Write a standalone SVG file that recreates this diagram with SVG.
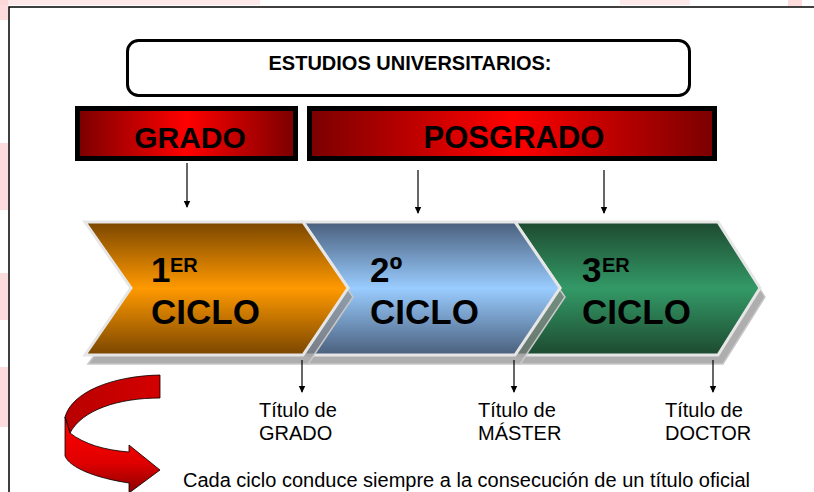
<svg xmlns="http://www.w3.org/2000/svg" width="814" height="492" viewBox="0 0 814 492">
  <defs>
    <linearGradient id="gRed" x1="0" y1="0" x2="1" y2="0">
      <stop offset="0" stop-color="#7a0000"/>
      <stop offset="0.5" stop-color="#ff0000"/>
      <stop offset="1" stop-color="#7a0000"/>
    </linearGradient>
    <linearGradient id="gOrange" x1="0" y1="0" x2="0" y2="1">
      <stop offset="0" stop-color="#7a4600"/>
      <stop offset="0.5" stop-color="#ff9900"/>
      <stop offset="1" stop-color="#7a4600"/>
    </linearGradient>
    <linearGradient id="gBlue" x1="0" y1="0" x2="0" y2="1">
      <stop offset="0" stop-color="#4a5f7c"/>
      <stop offset="0.5" stop-color="#99ccff"/>
      <stop offset="1" stop-color="#4a5f7c"/>
    </linearGradient>
    <linearGradient id="gGreen" x1="0" y1="0" x2="0" y2="1">
      <stop offset="0" stop-color="#1d4a30"/>
      <stop offset="0.5" stop-color="#339966"/>
      <stop offset="1" stop-color="#1d4a30"/>
    </linearGradient>
    <linearGradient id="gBack" x1="0" y1="0" x2="1" y2="0">
      <stop offset="0" stop-color="#b80000"/>
      <stop offset="1" stop-color="#d40000"/>
    </linearGradient>
    <linearGradient id="gFront" x1="0" y1="0" x2="0" y2="1">
      <stop offset="0" stop-color="#ff0000"/>
      <stop offset="0.6" stop-color="#e00000"/>
      <stop offset="1" stop-color="#8a0000"/>
    </linearGradient>
    <marker id="arr" markerWidth="8" markerHeight="8" refX="6" refY="4" orient="auto" markerUnits="userSpaceOnUse">
      <path d="M0,0.8 L7,4 L0,7.2 Z" fill="#000"/>
    </marker>
    <style>
      .bold { font-family: "Liberation Sans", Arial, sans-serif; font-weight: bold; fill: #000; }
      .reg { font-family: "Liberation Sans", Arial, sans-serif; fill: #000; }
      .chev { stroke: #e6e6e6; stroke-width: 3; stroke-linejoin: miter; }
      .shadow { fill: #8c8c8c; fill-opacity: 0.7; stroke: #c8c8c8; stroke-width: 1.5; }
      .redbox { fill: url(#gRed); stroke: #000; stroke-width: 5; }
      .conn { stroke: #000; stroke-width: 1.2; fill: none; marker-end: url(#arr); }
    </style>
  </defs>

  <!-- background -->
  <rect x="0" y="0" width="814" height="492" fill="#ffffff"/>
  <g id="watermark" fill="#fbd3d3" fill-opacity="0.8">
    <rect x="0" y="0" width="8" height="20"/>
    <rect x="0" y="143" width="8" height="67"/>
    <rect x="0" y="273" width="8" height="47"/>
    <rect x="0" y="367" width="8" height="60"/>
    <rect x="0" y="0" width="260" height="5" fill-opacity="0.5"/>
    <rect x="620" y="0" width="70" height="5" fill-opacity="0.5"/>
    <rect x="788" y="0" width="14" height="6"/>
  </g>

  <!-- frame -->
  <rect x="9" y="7" width="812" height="492" fill="#ffffff" stroke="#000" stroke-width="1.5"/>

  <!-- title -->
  <g id="title">
    <rect x="127.5" y="40.5" width="562" height="55" rx="11" ry="11" fill="#fff" stroke="#000" stroke-width="3"/>
    <text class="bold" x="410" y="70" font-size="20" text-anchor="middle">ESTUDIOS UNIVERSITARIOS:</text>
  </g>

  <!-- red headers -->
  <g id="grado">
    <rect class="redbox" x="77.5" y="108.5" width="218" height="50"/>
    <text class="bold" x="190" y="148" font-size="30" text-anchor="middle">GRADO</text>
  </g>
  <g id="posgrado">
    <rect class="redbox" x="309.5" y="108.5" width="405" height="50"/>
    <text class="bold" x="514" y="148" font-size="31" text-anchor="middle">POSGRADO</text>
  </g>

  <!-- chevrons -->
  <g id="ciclo3">
    <polygon class="shadow" points="520,231 723,231 765,297 723,364 520,364 565,297"/>
    <polygon class="chev" fill="url(#gGreen)" points="515,222 718,222 760,288 718,355 515,355 560,288"/>
    <text class="bold" x="582" y="282" font-size="35">3</text>
    <text class="bold" x="602" y="272" font-size="20">ER</text>
    <text class="bold" x="582" y="324" font-size="35">CICLO</text>
  </g>
  <g id="ciclo2">
    <polygon class="shadow" points="308,231 520,231 565,297 520,364 308,364 353,297"/>
    <polygon class="chev" fill="url(#gBlue)" points="303,222 515,222 560,288 515,355 303,355 348,288"/>
    <text class="bold" x="370" y="282" font-size="35">2º</text>
    <text class="bold" x="370" y="324" font-size="35">CICLO</text>
  </g>
  <g id="ciclo1">
    <polygon class="shadow" points="92,231 308,231 353,297 308,364 88,364 137,297"/>
    <polygon class="chev" fill="url(#gOrange)" points="85,222 303,222 348,288 303,355 85,355 131,288"/>
    <text class="bold" x="151" y="282" font-size="35">1</text>
    <text class="bold" x="170" y="272" font-size="20">ER</text>
    <text class="bold" x="151" y="324" font-size="35">CICLO</text>
  </g>

  <!-- connectors -->
  <g id="connectors">
    <line class="conn" x1="187" y1="163" x2="187" y2="207"/>
    <line class="conn" x1="418" y1="170" x2="418" y2="213"/>
    <line class="conn" x1="604" y1="170" x2="604" y2="213"/>
    <line class="conn" x1="302" y1="360" x2="302" y2="392"/>
    <line class="conn" x1="514" y1="360" x2="514" y2="392"/>
    <line class="conn" x1="713" y1="360" x2="713" y2="392"/>
  </g>

  <!-- result labels -->
  <g id="titulo-grado">
    <text class="reg" x="259" y="417" font-size="20">Título de</text>
    <text class="reg" x="259" y="440" font-size="20">GRADO</text>
  </g>
  <g id="titulo-master">
    <text class="reg" x="478" y="417" font-size="20">Título de</text>
    <text class="reg" x="478" y="440" font-size="20">MÁSTER</text>
  </g>
  <g id="titulo-doctor">
    <text class="reg" x="665" y="417" font-size="20">Título de</text>
    <text class="reg" x="665" y="440" font-size="20">DOCTOR</text>
  </g>

  <!-- curved red arrow -->
  <g id="curved-arrow" stroke="#000" stroke-width="0.8" stroke-linejoin="round">
    <path fill="url(#gBack)" d="M160,375 L160,398 C118,398 82,410 70,433 L65,417 C72,392 112,376 160,375 Z"/>
    <path fill="url(#gFront)" d="M65,417 L70,433 C84,444 104,450 129,452 L129,445 L160,470 L129,493 L129,483 C96,478 70,468 65,456 Z"/>
  </g>

  <g id="note">
    <text class="reg" x="183" y="487" font-size="20">Cada ciclo conduce siempre a la consecución de un título oficial</text>
  </g>
</svg>
